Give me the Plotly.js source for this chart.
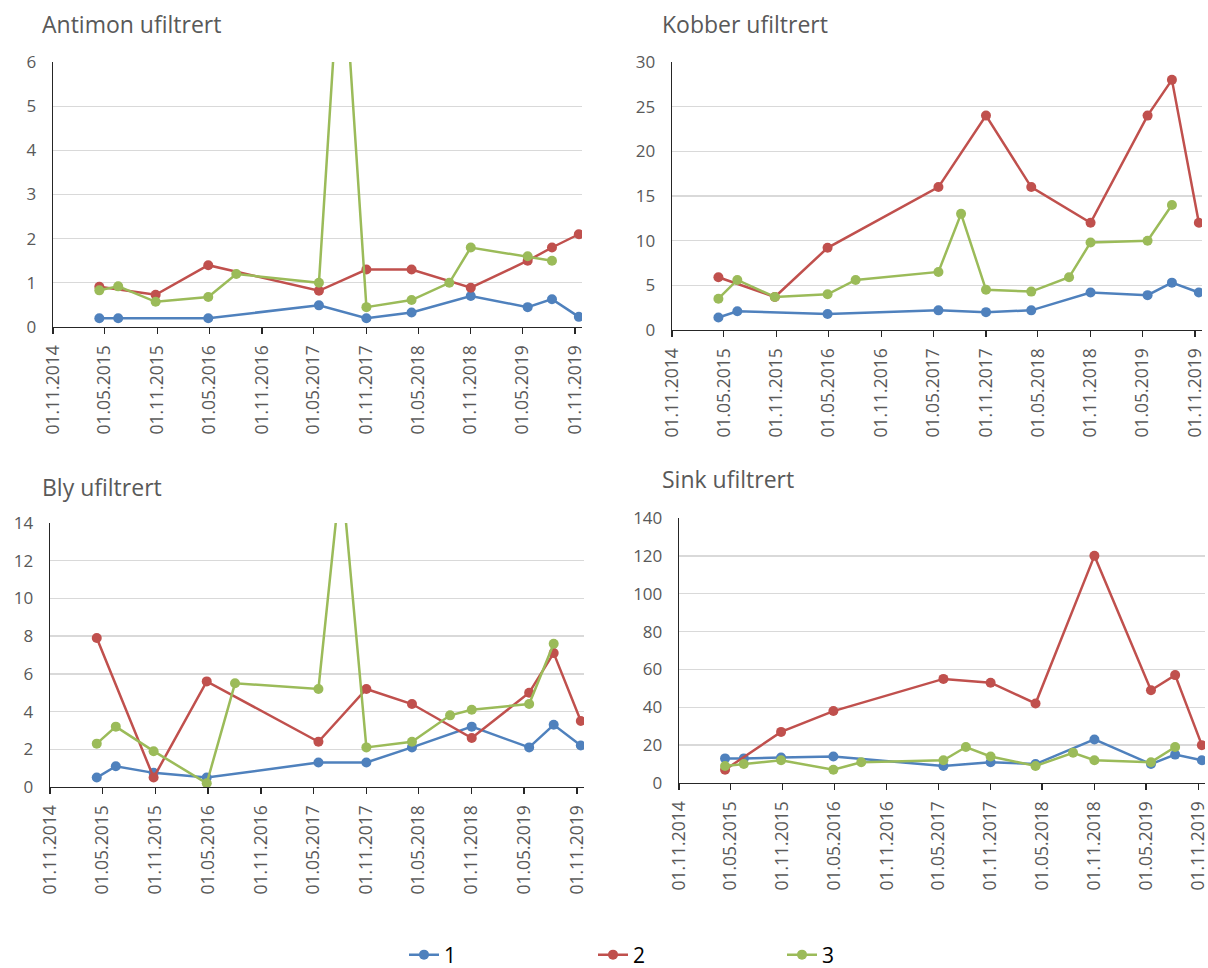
<!DOCTYPE html>
<html>
<head>
<meta charset="utf-8">
<script src="https://cdn.plot.ly/plotly-3.0.1.min.js"></script>
<style>html,body{margin:0;padding:0;background:#fff;}#chart{width:1208px;height:968px;}</style>
</head>
<body>
<div id="chart"></div>
<script>
// Sampling dates (shared by all stations; null = no sample)
const dates = ['2015-04-12','2015-06-17','2015-10-26','2016-04-27','2016-08-03','2017-05-19','2017-08-06',
               '2017-11-01','2018-04-08','2018-08-18','2018-11-01','2019-05-19','2019-08-12','2019-11-14'];

const seriesNames = ['1', '2', '3'];
const seriesColors = ['#4F81BD', '#C0504D', '#9BBB59'];

// Antimon ufiltrert
const antimon1 = [0.2, 0.2, null, 0.2, null, 0.49, null, 0.2, 0.33, null, 0.7, 0.45, 0.63, 0.23];
const antimon2 = [0.91, null, 0.73, 1.4, null, 0.82, null, 1.3, 1.3, null, 0.89, 1.5, 1.8, 2.1];
const antimon3 = [0.83, 0.92, 0.57, 0.68, 1.2, 1.0, 9.0, 0.45, 0.61, 1.0, 1.8, 1.6, 1.5, null];

// Kobber ufiltrert
const kobber1 = [1.4, 2.1, null, 1.8, null, 2.2, null, 2.0, 2.2, null, 4.2, 3.9, 5.3, 4.2];
const kobber2 = [5.9, null, 3.7, 9.2, null, 16, null, 24, 16, null, 12, 24, 28, 12];
const kobber3 = [3.5, 5.6, 3.7, 4.0, 5.6, 6.5, 13, 4.5, 4.3, 5.9, 9.8, 10, 14, null];

// Bly ufiltrert
const bly1 = [0.5, 1.1, 0.75, 0.5, null, 1.3, null, 1.3, 2.1, null, 3.2, 2.1, 3.3, 2.2];
const bly2 = [7.9, null, 0.5, 5.6, null, 2.4, null, 5.2, 4.4, null, 2.6, 5.0, 7.1, 3.5];
const bly3 = [2.3, 3.2, 1.9, 0.2, 5.5, 5.2, 16.8, 2.1, 2.4, 3.8, 4.1, 4.4, 7.6, null];

// Sink ufiltrert
const sink1 = [13, 13, 13.5, 14, null, 9, null, 11, 10, null, 23, 10, 15, 12];
const sink2 = [7, null, 27, 38, null, 55, null, 53, 42, null, 120, 49, 57, 20];
const sink3 = [9, 10, 12, 7, 11, 12, 19, 14, 9, 16, 12, 11, 19, null];

const panels = [
  {title: 'Antimon ufiltrert', data: [antimon1, antimon2, antimon3], ymax: 6,   dtick: 1,  xa: 'x',  ya: 'y'},
  {title: 'Kobber ufiltrert',  data: [kobber1, kobber2, kobber3],    ymax: 30,  dtick: 5,  xa: 'x2', ya: 'y2'},
  {title: 'Bly ufiltrert',     data: [bly1, bly2, bly3],             ymax: 14,  dtick: 2,  xa: 'x3', ya: 'y3'},
  {title: 'Sink ufiltrert',    data: [sink1, sink2, sink3],          ymax: 140, dtick: 20, xa: 'x4', ya: 'y4'}
];

const FONT = 'Open Sans, Noto Sans, sans-serif';
const traces = [];
panels.forEach((p, pi) => {
  p.data.forEach((vals, si) => {
    traces.push({
      type: 'scatter', mode: 'lines+markers',
      x: dates, y: vals, connectgaps: true,
      name: seriesNames[si], legendgroup: seriesNames[si], showlegend: pi === 0,
      xaxis: p.xa, yaxis: p.ya,
      line: {color: seriesColors[si], width: 2.5},
      marker: {color: seriesColors[si], size: 10, symbol: 'circle'},
      cliponaxis: true
    });
  });
});

function xAxis(domain, anchor) {
  return {
    domain: domain, anchor: anchor, type: 'date',
    range: ['2014-11-01', '2019-11-25'],
    tick0: '2014-11-01', dtick: 'M6', tickformat: '%d.%m.%Y', tickangle: -90,
    ticks: 'outside', ticklen: 6, tickwidth: 1.3, tickcolor: '#262626',
    showline: true, linecolor: '#262626', linewidth: 1.3,
    showgrid: false, zeroline: false, fixedrange: true,
    ticklabeloverflow: 'allow', ticklabelstandoff: 4, automargin: false,
    tickfont: {family: FONT, size: 17.5, color: '#595959'}
  };
}
function yAxis(domain, anchor, ymax, dtick) {
  return {
    domain: domain, anchor: anchor, range: [0, ymax], dtick: dtick,
    showline: true, linecolor: '#262626', linewidth: 1.3, ticks: '',
    showgrid: true, gridcolor: '#D9D9D9', gridwidth: 1.3, zeroline: false,
    ticklabelstandoff: 12, ticklabeloverflow: 'allow', automargin: false,
    tickfont: {family: FONT, size: 17, color: '#595959'}
  };
}

const W = 1208, H = 968;
const px = v => v / W, py = v => 1 - v / H;

const layout = {
  width: W, height: H,
  margin: {l: 0, r: 0, t: 0, b: 0, autoexpand: false},
  paper_bgcolor: '#fff', plot_bgcolor: '#fff',
  showlegend: true,
  xaxis:  xAxis([px(53),  px(582)],  'y'),
  yaxis:  yAxis([py(327), py(62)],   'x',  6, 1),
  xaxis2: xAxis([px(672), px(1202)], 'y2'),
  yaxis2: yAxis([py(330), py(62)],   'x2', 30, 5),
  xaxis3: xAxis([px(50),  px(584)],  'y3'),
  yaxis3: yAxis([py(787), py(523)],  'x3', 14, 2),
  xaxis4: xAxis([px(679), px(1205)], 'y4'),
  yaxis4: yAxis([py(783), py(518)],  'x4', 140, 20),
  legend: {
    orientation: 'h', x: px(404), xanchor: 'left', y: py(955), yanchor: 'middle',
    entrywidth: 144, entrywidthmode: 'pixels', itemwidth: 30,
    font: {family: FONT, size: 21, color: '#000'}, bgcolor: 'rgba(0,0,0,0)'
  },
  annotations: [
    {text: panels[0].title, x: px(40),  y: py(24),  xref: 'paper', yref: 'paper', xanchor: 'left', yanchor: 'middle', showarrow: false, font: {family: FONT, size: 23, color: '#595959'}},
    {text: panels[1].title, x: px(660), y: py(24),  xref: 'paper', yref: 'paper', xanchor: 'left', yanchor: 'middle', showarrow: false, font: {family: FONT, size: 23, color: '#595959'}},
    {text: panels[2].title, x: px(40),  y: py(487), xref: 'paper', yref: 'paper', xanchor: 'left', yanchor: 'middle', showarrow: false, font: {family: FONT, size: 23, color: '#595959'}},
    {text: panels[3].title, x: px(660), y: py(479), xref: 'paper', yref: 'paper', xanchor: 'left', yanchor: 'middle', showarrow: false, font: {family: FONT, size: 23, color: '#595959'}}
  ]
};

Plotly.newPlot('chart', traces, layout, {staticPlot: true, displayModeBar: false});
</script>
</body>
</html>
